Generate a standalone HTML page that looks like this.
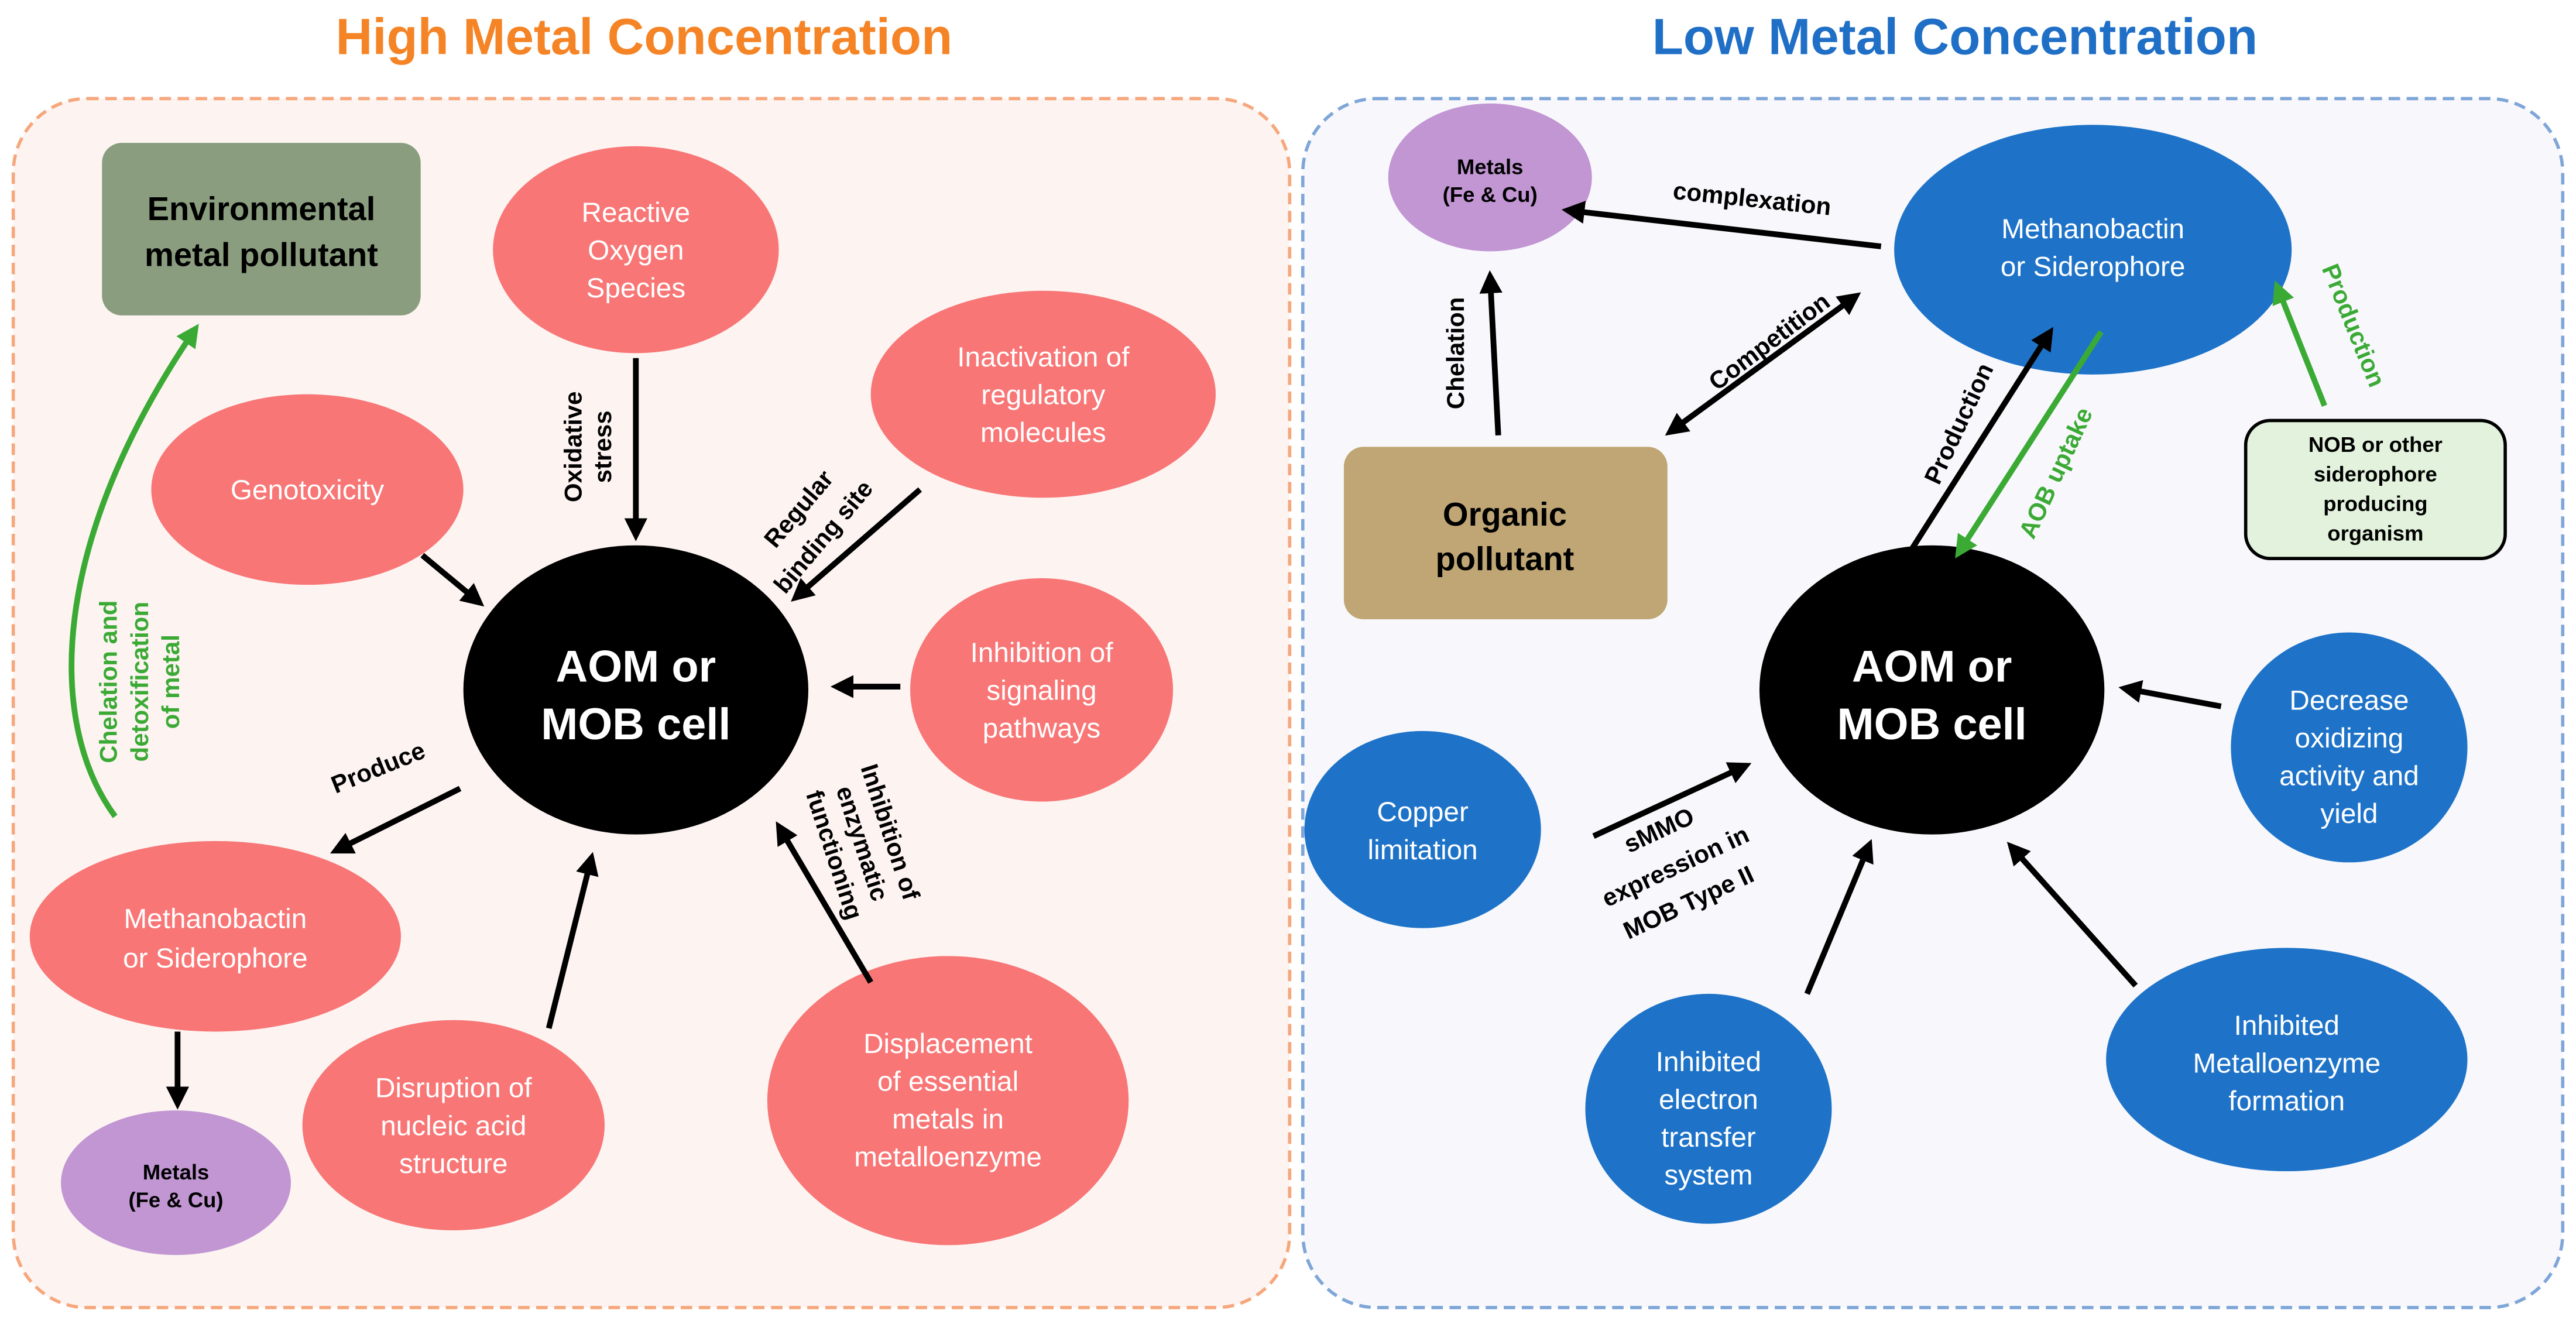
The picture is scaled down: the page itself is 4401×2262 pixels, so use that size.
<!DOCTYPE html>
<html><head><meta charset="utf-8"><style>
html,body{margin:0;padding:0;background:#fff;}
svg{display:block;}
text{font-family:"Liberation Sans",sans-serif;}
</style></head><body>
<svg width="4401" height="2262" viewBox="0 0 1568 806" xmlns="http://www.w3.org/2000/svg">
<defs>
<marker id="ab" markerWidth="4" markerHeight="4" refX="3" refY="2" orient="auto" markerUnits="strokeWidth"><path d="M0,0 L4,2 L0,4 z" fill="#000"/></marker>
<marker id="abs" markerWidth="4" markerHeight="4" refX="1" refY="2" orient="auto-start-reverse" markerUnits="strokeWidth"><path d="M0,0 L4,2 L0,4 z" fill="#000"/></marker>
<marker id="ag" markerWidth="4" markerHeight="4" refX="3" refY="2" orient="auto" markerUnits="strokeWidth"><path d="M0,0 L4,2 L0,4 z" fill="#3BAA35"/></marker>
</defs>
<rect width="1568" height="806" fill="#fff"/>
<text x="392" y="33" text-anchor="middle" font-size="31" font-weight="bold" fill="#F58426">High Metal Concentration</text>
<text x="1190" y="33" text-anchor="middle" font-size="31" font-weight="bold" fill="#1F6FC6">Low Metal Concentration</text>
<rect x="8" y="60" width="777" height="736" rx="45" fill="#FDF4F2" stroke="#F6A77C" stroke-width="2" stroke-dasharray="7,4"/>
<rect x="793" y="60" width="767" height="736" rx="45" fill="#F8F8FC" stroke="#7FA6D8" stroke-width="2" stroke-dasharray="7,4"/>

<!-- LEFT -->
<rect x="62" y="87" width="194" height="105" rx="12" fill="#8A9E7F"/>
<text x="159" y="134" text-anchor="middle" font-size="20" font-weight="bold">Environmental</text>
<text x="159" y="162" text-anchor="middle" font-size="20" font-weight="bold">metal pollutant</text>

<g fill="#F87676">
<ellipse cx="387" cy="152" rx="87" ry="63"/>
<ellipse cx="635" cy="240" rx="105" ry="63"/>
<ellipse cx="187" cy="298" rx="95" ry="58"/>
<ellipse cx="634" cy="420" rx="80" ry="68"/>
<ellipse cx="131" cy="570" rx="113" ry="58"/>
<ellipse cx="276" cy="685" rx="92" ry="64"/>
<ellipse cx="577" cy="670" rx="110" ry="88"/>
</g>
<ellipse cx="107" cy="720" rx="70" ry="44" fill="#C196D3"/>
<ellipse cx="387" cy="420" rx="105" ry="88" fill="#000"/>
<ellipse cx="1176" cy="420" rx="105" ry="88" fill="#000"/>

<g fill="#fff" font-size="17" text-anchor="middle">
<text x="387" y="135">Reactive</text><text x="387" y="158">Oxygen</text><text x="387" y="181">Species</text>
<text x="635" y="223">Inactivation of</text><text x="635" y="246">regulatory</text><text x="635" y="269">molecules</text>
<text x="187" y="304">Genotoxicity</text>
<text x="634" y="403">Inhibition of</text><text x="634" y="426">signaling</text><text x="634" y="449">pathways</text>
<text x="131" y="565">Methanobactin</text><text x="131" y="589">or Siderophore</text>
<text x="276" y="668">Disruption of</text><text x="276" y="691">nucleic acid</text><text x="276" y="714">structure</text>
<text x="577" y="641">Displacement</text><text x="577" y="664">of essential</text><text x="577" y="687">metals in</text><text x="577" y="710">metalloenzyme</text>
</g>
<text x="107" y="718" text-anchor="middle" font-size="13" font-weight="bold">Metals</text>
<text x="107" y="735" text-anchor="middle" font-size="13" font-weight="bold">(Fe &amp; Cu)</text>
<g fill="#fff" font-size="27" font-weight="bold" text-anchor="middle">
<text x="387" y="415">AOM or</text><text x="387" y="450">MOB cell</text>
<text x="1176" y="415">AOM or</text><text x="1176" y="450">MOB cell</text>
</g>

<g stroke="#000" stroke-width="3.5" fill="none" marker-end="url(#ab)">
<line x1="387" y1="218" x2="387" y2="326"/>
<line x1="560" y1="298" x2="484" y2="364"/>
<line x1="257" y1="338" x2="292" y2="367"/>
<line x1="548" y1="418" x2="509" y2="418"/>
<line x1="530" y1="598" x2="474" y2="503"/>
<line x1="334" y1="626" x2="360" y2="522"/>
<line x1="280" y1="480" x2="204" y2="518"/>
<line x1="108" y1="628" x2="108" y2="672"/>
</g>
<path d="M70,497 C28,440 30,330 119,200" stroke="#3BAA35" stroke-width="3.5" fill="none" marker-end="url(#ag)"/>

<g font-size="15" font-weight="bold">
<text transform="translate(354,272) rotate(-90)" text-anchor="middle">Oxidative</text>
<text transform="translate(372,272) rotate(-90)" text-anchor="middle">stress</text>
<text transform="translate(490,313) rotate(-50)" text-anchor="middle">Regular</text>
<text transform="translate(505,330) rotate(-50)" text-anchor="middle">binding site</text>
<text transform="translate(232,472) rotate(-22)" text-anchor="middle">Produce</text>
<text transform="translate(537,508) rotate(72)" text-anchor="middle">Inhibition of</text>
<text transform="translate(520,515) rotate(72)" text-anchor="middle">enzymatic</text>
<text transform="translate(503,522) rotate(72)" text-anchor="middle">functioning</text>
</g>
<g font-size="15" font-weight="bold" fill="#3BAA35">
<text transform="translate(71,415) rotate(-90)" text-anchor="middle">Chelation and</text>
<text transform="translate(90,415) rotate(-90)" text-anchor="middle">detoxification</text>
<text transform="translate(109,415) rotate(-90)" text-anchor="middle">of metal</text>
</g>

<!-- RIGHT -->
<ellipse cx="907" cy="108" rx="62" ry="45" fill="#C196D3"/>
<text x="907" y="106" text-anchor="middle" font-size="13" font-weight="bold">Metals</text>
<text x="907" y="123" text-anchor="middle" font-size="13" font-weight="bold">(Fe &amp; Cu)</text>
<g fill="#1E73C8">
<ellipse cx="1274" cy="152" rx="121" ry="76"/>
<ellipse cx="866" cy="505" rx="72" ry="60"/>
<ellipse cx="1430" cy="455" rx="72" ry="70"/>
<ellipse cx="1040" cy="675" rx="75" ry="70"/>
<ellipse cx="1392" cy="645" rx="110" ry="68"/>
</g>
<g fill="#fff" font-size="17" text-anchor="middle">
<text x="1274" y="145">Methanobactin</text><text x="1274" y="168">or Siderophore</text>
<text x="866" y="500">Copper</text><text x="866" y="523">limitation</text>
<text x="1430" y="432">Decrease</text><text x="1430" y="455">oxidizing</text><text x="1430" y="478">activity and</text><text x="1430" y="501">yield</text>
<text x="1040" y="652">Inhibited</text><text x="1040" y="675">electron</text><text x="1040" y="698">transfer</text><text x="1040" y="721">system</text>
<text x="1392" y="630">Inhibited</text><text x="1392" y="653">Metalloenzyme</text><text x="1392" y="676">formation</text>
</g>
<rect x="818" y="272" width="197" height="105" rx="12" fill="#BFA674"/>
<text x="916" y="320" text-anchor="middle" font-size="20" font-weight="bold">Organic</text>
<text x="916" y="347" text-anchor="middle" font-size="20" font-weight="bold">pollutant</text>
<rect x="1367" y="256" width="158" height="84" rx="15" fill="#E2F2DC" stroke="#000" stroke-width="2"/>
<g font-size="13" font-weight="bold" text-anchor="middle">
<text x="1446" y="275">NOB or other</text><text x="1446" y="293">siderophore</text><text x="1446" y="311">producing</text><text x="1446" y="329">organism</text>
</g>

<g stroke="#000" stroke-width="3.5" fill="none" marker-end="url(#ab)">
<line x1="1145" y1="150" x2="954" y2="128"/>
<line x1="912" y1="265" x2="907" y2="168"/>
<line x1="1162" y1="337" x2="1248" y2="202"/>
<line x1="970" y1="509" x2="1063" y2="466"/>
<line x1="1352" y1="430" x2="1293" y2="419"/>
<line x1="1100" y1="605" x2="1138" y2="514"/>
<line x1="1300" y1="600" x2="1224" y2="515"/>
</g>
<line x1="1022" y1="259" x2="1130" y2="180" stroke="#000" stroke-width="3.5" marker-end="url(#ab)" marker-start="url(#abs)"/>
<g stroke="#3BAA35" stroke-width="3.5" fill="none" marker-end="url(#ag)">
<line x1="1279" y1="202" x2="1192" y2="337"/>
<line x1="1415" y1="247" x2="1386" y2="174"/>
</g>
<g font-size="15" font-weight="bold">
<text transform="translate(1066,126) rotate(6)" text-anchor="middle">complexation</text>
<text transform="translate(891,215) rotate(-90)" text-anchor="middle">Chelation</text>
<text transform="translate(1080,212) rotate(-37)" text-anchor="middle">Competition</text>
<text transform="translate(1197,260) rotate(-65)" text-anchor="middle">Production</text>
<text transform="translate(1012,510) rotate(-25)" text-anchor="middle">sMMO</text>
<text transform="translate(1022,532) rotate(-25)" text-anchor="middle">expression in</text>
<text transform="translate(1030,554) rotate(-25)" text-anchor="middle">MOB Type II</text>
</g>
<g font-size="15" font-weight="bold" fill="#3BAA35">
<text transform="translate(1256,290) rotate(-65)" text-anchor="middle">AOB uptake</text>
<text transform="translate(1428,200) rotate(68)" text-anchor="middle">Production</text>
</g>
</svg>
</body></html>
